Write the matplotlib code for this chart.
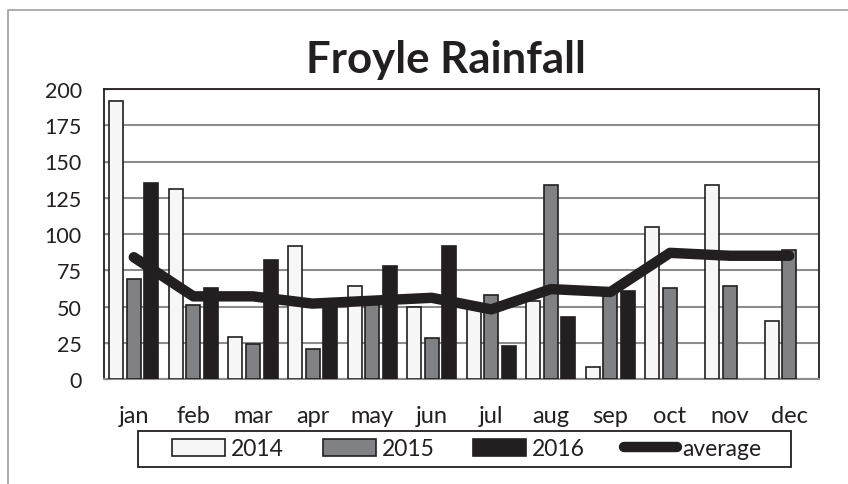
import matplotlib
matplotlib.use("Agg")
import matplotlib.pyplot as plt
from matplotlib.lines import Line2D
from matplotlib.patches import Rectangle
import numpy as np

months = ["jan", "feb", "mar", "apr", "may", "jun",
          "jul", "aug", "sep", "oct", "nov", "dec"]
rain_2014 = [192, 131, 29, 92, 64, 50, 48, 54, 8, 105, 134, 40]
rain_2015 = [69, 51, 24, 21, 53, 28, 58, 134, 60, 63, 64, 89]
rain_2016 = [135, 63, 82, 53, 78, 92, 23, 43, 61, None, None, None]
average = [84, 57, 57, 52, 54, 56, 48, 62, 60, 87, 85, 85]
y_ticks = [0, 25, 50, 75, 100, 125, 150, 175, 200]

DARK = "#231f20"
GREY = "#808184"
LIGHT = "#f7f7f7"
GRID = "#8c8c8c"

plt.rcParams["font.family"] = ["Lato", "DejaVu Sans"]

W, H = 848, 485
fig = plt.figure(figsize=(W / 100, H / 100), dpi=100)
fig.patch.set_facecolor("white")

# outer chart frame (open at right and bottom edges)
fig.add_artist(Line2D([8 / W, 8 / W, 1.0], [0.0, 1 - 11 / H, 1 - 11 / H],
                      transform=fig.transFigure, color="#a6a6a6", lw=1.3))

ax = fig.add_axes([104 / W, 1 - 380 / H, (819 - 104) / W, (380 - 90) / H])

x = np.arange(len(months))
bw = 0.235
off = 0.295


def draw_series(values, shift, face, label):
    pts = [(i, v) for i, v in enumerate(values) if v is not None]
    xs = np.array([p[0] for p in pts]) + shift
    hs = [p[1] for p in pts]
    return ax.bar(xs, hs, bw, color=face, edgecolor=DARK, linewidth=1.2,
                  label=label, zorder=3)


b14 = draw_series(rain_2014, -off, LIGHT, "2014")
b15 = draw_series(rain_2015, 0.0, GREY, "2015")
b16 = draw_series(rain_2016, off, DARK, "2016")
(avg_line,) = ax.plot(x, average, color=DARK, lw=7.5, solid_capstyle="round",
                      solid_joinstyle="round", label="average", zorder=4)

ax.set_xlim(-0.5, len(months) - 0.5)
ax.set_ylim(0, 200)
ax.set_yticks(y_ticks)
ax.set_xticks(x)
ax.set_xticklabels(months)
ax.yaxis.grid(True, color=GRID, lw=1.5, zorder=0)
ax.set_axisbelow(True)

for side in ("left", "top", "right"):
    ax.spines[side].set_color(DARK)
    ax.spines[side].set_linewidth(1.3)
ax.spines["bottom"].set_color(GRID)
ax.spines["bottom"].set_linewidth(1.5)

ax.tick_params(axis="y", direction="in", length=3, width=1, color=GRID,
               pad=16, labelsize=15.5, labelcolor=DARK)
ax.tick_params(axis="x", length=0, pad=19, labelsize=17, labelcolor=DARK)

fig.text(445.5 / W, 1 - 73 / H, "Froyle Rainfall", ha="center", va="baseline",
         fontsize=31.5, fontweight="bold", color=DARK)

# legend entries, with a plain rectangular box drawn around them
leg = fig.legend([b14, b15, b16, avg_line], ["2014", "2015", "2016", "average"],
                 loc="center", bbox_to_anchor=(467 / W, 1 - 449.7 / H), ncol=4,
                 frameon=False, fontsize=16.5,
                 handlelength=2.3, handleheight=0.75, handletextpad=0.26,
                 columnspacing=1.7, borderpad=0.0, labelcolor=DARK)
fig.add_artist(Rectangle((137.5 / W, 1 - 467.5 / H), (791 - 137.5) / W,
                         36 / H, transform=fig.transFigure, fill=False,
                         edgecolor=DARK, linewidth=1.3))

fig.savefig("out.png", dpi=100)
